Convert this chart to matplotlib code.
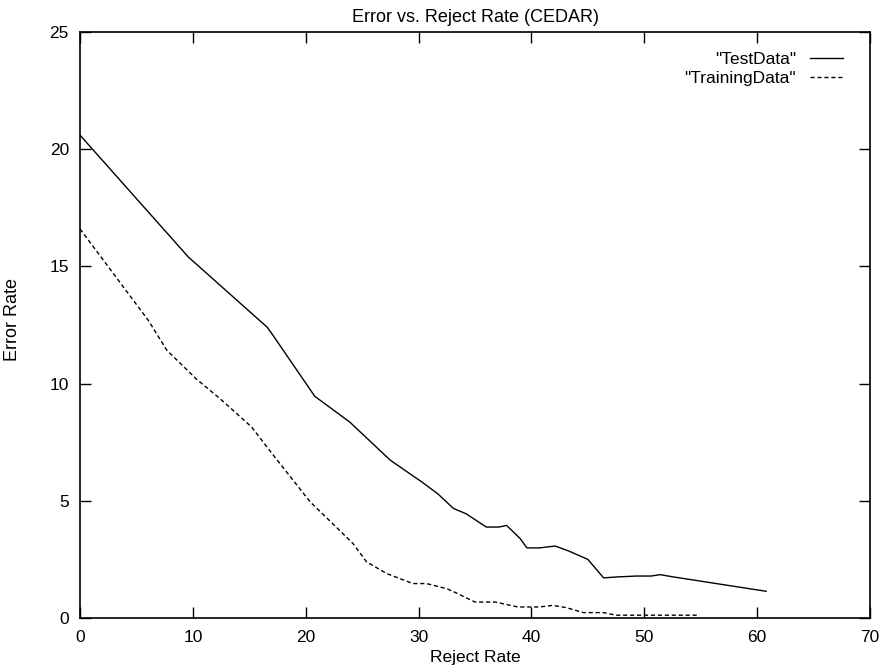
import matplotlib.pyplot as plt

# Test data (solid line)
test_x = [0, 9.6, 16.6, 17.1, 20.8, 23.9, 27.5, 30.3, 31.7, 33.1, 34.2, 36.0,
          37.1, 37.8, 39.0, 39.6, 40.7, 42.1, 43.3, 45.0, 46.4, 47.5, 49.3,
          50.6, 51.4, 52.6, 54.9, 57.3, 60.8]
test_y = [20.6, 15.4, 12.4, 12.06, 9.46, 8.36, 6.73, 5.8, 5.3, 4.67, 4.45, 3.88,
          3.88, 3.95, 3.39, 2.99, 2.99, 3.07, 2.86, 2.5, 1.71, 1.75, 1.79,
          1.79, 1.85, 1.75, 1.58, 1.4, 1.14]

# Training data (dashed line)
train_x = [0, 6.05, 7.7, 10.3, 12.4, 15.2, 16.8, 20.4, 22.7, 24.2, 25.4, 27.2,
           29.5, 30.7, 32.5, 33.2, 35.0, 36.8, 38.8, 40.7, 41.9, 43.1, 44.6,
           46.4, 47.5, 54.9]
train_y = [16.6, 12.7, 11.42, 10.2, 9.36, 8.15, 7.15, 4.95, 3.88, 3.17, 2.39, 1.89,
           1.47, 1.47, 1.25, 1.1, 0.68, 0.68, 0.47, 0.47, 0.54, 0.44, 0.23,
           0.23, 0.12, 0.12]

xticks = [0, 10, 20, 30, 40, 50, 60, 70]
yticks = [0, 5, 10, 15, 20, 25]

plt.rcParams['font.family'] = ['Liberation Sans', 'DejaVu Sans']
fs = 12.5

fig = plt.figure(figsize=(8.82, 6.66), dpi=100)
ax = fig.add_axes([80 / 882, 48 / 666, 790 / 882, 586 / 666])

ax.plot(test_x, test_y, color='black', lw=1.0, label='"TestData"')
ax.plot(train_x, train_y, color='black', lw=1.0, linestyle=(0, (3, 2)),
        label='"TrainingData"')

ax.set_xlim(0, 70)
ax.set_ylim(0, 25)
ax.set_xticks(xticks)
ax.set_yticks(yticks)
ax.tick_params(direction='in', length=8, width=1, top=True, right=True,
               labelsize=fs)
ax.tick_params(axis='x', pad=9)
ax.tick_params(axis='y', pad=8)
for s in ax.spines.values():
    s.set_linewidth(1.2)

ax.set_title('Error vs. Reject Rate (CEDAR)', fontsize=13, pad=7)
ax.set_xlabel('Reject Rate', fontsize=fs, labelpad=3)
ax.set_ylabel('Error Rate', fontsize=13)
ax.yaxis.set_label_coords(-59 / 790, 0.51)

ax.legend(loc='upper right', frameon=False, markerfirst=False,
          handlelength=1.9, handletextpad=0.8, labelspacing=0.2,
          bbox_to_anchor=(1 - 20 / 790, 1 - 13 / 586), borderaxespad=0,
          fontsize=fs)

fig.savefig('out.png', dpi=100)
